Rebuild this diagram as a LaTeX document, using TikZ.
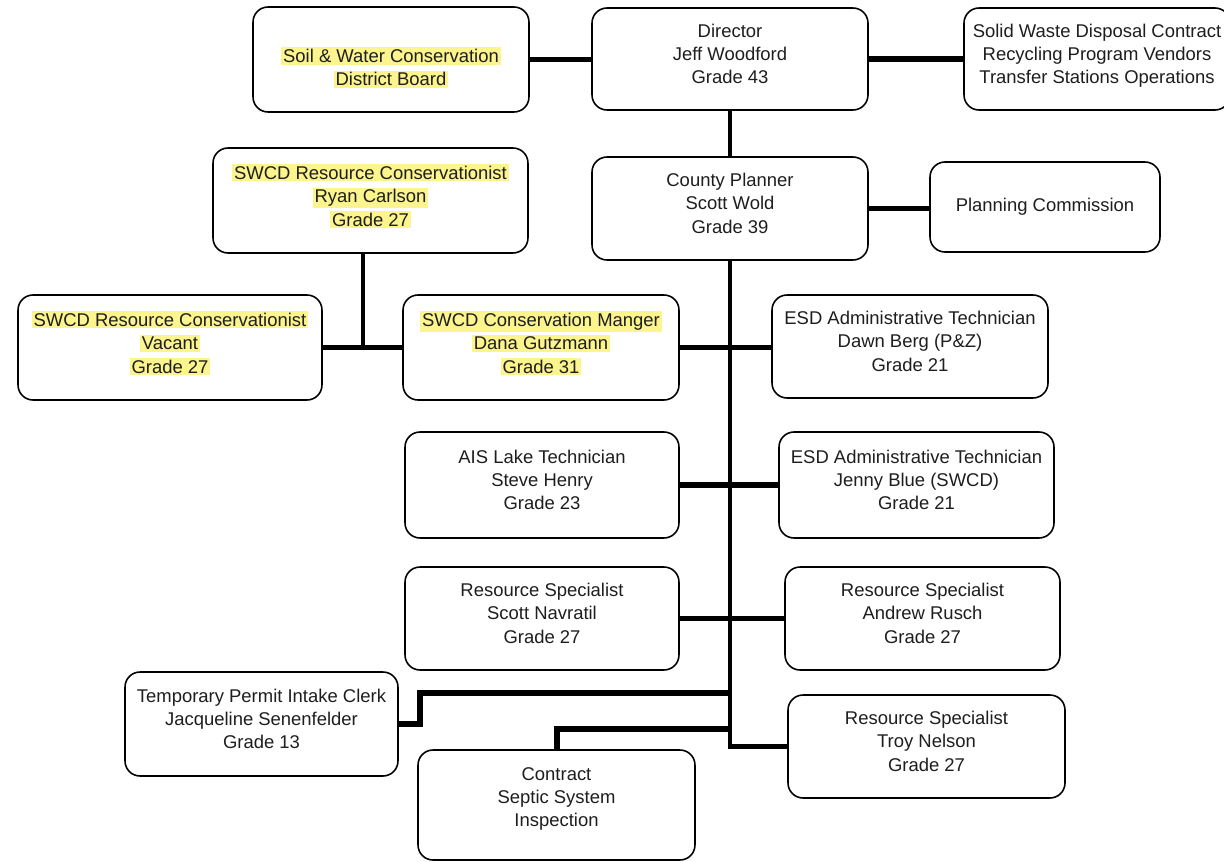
\documentclass[tikz,border=0pt]{standalone}
\usepackage{fontspec}
\setmainfont{Liberation Sans}
\definecolor{hly}{RGB}{252,244,140}
\definecolor{txt}{RGB}{30,30,30}
\newcommand\hlt[1]{{\setlength{\fboxsep}{1pt}\colorbox{hly}{#1}}}
\begin{document}
\begin{tikzpicture}[x=0.02cm,y=-0.02cm,
  box/.style={draw=black, line width=0.9pt, rounded corners=0.3cm, align=center,
    inner sep=0pt, text=txt, fill=white, font=\fontsize{10.5}{13.3}\selectfont},
  up/.style={text depth=6pt},
  conn/.style={draw=black, line width=3pt, line join=miter},
  trunk/.style={draw=black, line width=2.5pt, line join=miter}]
\useasboundingbox (0,0) rectangle (1224,862);
\clip (0,0) rectangle (1224,862);
\fill[white] (0,0) rectangle (1224,862);

\coordinate (rj) at (363,347.5);
\coordinate (j1) at (420,693);
\coordinate (c1) at (557,729);

% nodes
\node[box, minimum width=5.52cm, minimum height=2.1cm] (soil) at (391,59.5)
  {\raisebox{-8.5pt}[0pt][0pt]{\begin{tabular}{@{}c@{}}\hlt{Soil \& Water Conservation}\\\hlt{District Board}\end{tabular}}};
\node[box, up, minimum width=5.52cm, minimum height=2.04cm] (dir) at (730,59)
  {Director\\Jeff Woodford\\Grade 43};
\node[box, up, minimum width=5.32cm, minimum height=2.04cm] (solid) at (1097,59)
  {Solid Waste Disposal Contract\\Recycling Program Vendors\\Transfer Stations Operations};
\node[box, up, minimum width=6.3cm, minimum height=2.1cm] (ryan) at (370.5,200.5)
  {\hlt{SWCD Resource Conservationist}\\\hlt{Ryan Carlson}\\\hlt{Grade 27}};
\node[box, up, minimum width=5.52cm, minimum height=2.06cm] (county) at (730,208.5)
  {County Planner\\Scott Wold\\Grade 39};
\node[box, minimum width=4.6cm, minimum height=1.8cm] (plan) at (1045,207)
  {Planning Commission};
\node[box, up, minimum width=6.08cm, minimum height=2.1cm] (vacant) at (170,347.5)
  {\hlt{SWCD Resource Conservationist}\\\hlt{Vacant}\\\hlt{Grade 27}};
\node[box, up, minimum width=5.52cm, minimum height=2.1cm] (dana) at (541,347.5)
  {\hlt{SWCD Conservation Manger}\\\hlt{Dana Gutzmann}\\\hlt{Grade 31}};
\node[box, up, minimum width=5.52cm, minimum height=2.06cm] (dawn) at (910,346.5)
  {ESD Administrative Technician\\Dawn Berg (P\&Z)\\Grade 21};
\node[box, up, minimum width=5.48cm, minimum height=2.12cm] (ais) at (542,485)
  {AIS Lake Technician\\Steve Henry\\Grade 23};
\node[box, up, minimum width=5.5cm, minimum height=2.12cm] (jenny) at (916.5,485)
  {ESD Administrative Technician\\Jenny Blue (SWCD)\\Grade 21};
\node[box, up, minimum width=5.48cm, minimum height=2.06cm] (nav) at (542,618.5)
  {Resource Specialist\\Scott Navratil\\Grade 27};
\node[box, up, minimum width=5.5cm, minimum height=2.06cm] (rusch) at (922.5,618.5)
  {Resource Specialist\\Andrew Rusch\\Grade 27};
\node[box, up, minimum width=5.46cm, minimum height=2.08cm] (jac) at (261.5,724)
  {Temporary Permit Intake Clerk\\Jacqueline Senenfelder\\Grade 13};
\node[box, up, minimum width=5.54cm, minimum height=2.06cm] (troy) at (926.5,746.5)
  {Resource Specialist\\Troy Nelson\\Grade 27};
\node[box, text depth=9pt, minimum width=5.54cm, minimum height=2.2cm] (contract) at (556.5,805)
  {Contract\\Septic System\\Inspection};

% connectors
\draw[conn] (soil.east) -- (soil.east -| dir.west);
\draw[conn] (dir.east) -- (dir.east -| solid.west);
\draw[trunk] (dir.south) -- (county.north);
\draw[conn] (county.east) -- (county.east -| plan.west);
\draw[trunk] (county.south) -- (county.south |- troy.west) -- (troy.west);
\draw[conn] (dana.east) -- (dana.east -| dawn.west);
\draw[conn] (ais.east) -- (ais.east -| jenny.west);
\draw[conn] (nav.east) -- (nav.east -| rusch.west);
\draw[trunk] (ryan.south -| rj) -- (rj);
\draw[conn] (vacant.east) -- (vacant.east -| dana.west);
\draw[conn] (county.south |- j1) -- (j1) -- (j1 |- jac.east) -- (jac.east);
\draw[conn] (county.south |- c1) -- (c1) -- (c1 |- contract.north);
\end{tikzpicture}
\end{document}
